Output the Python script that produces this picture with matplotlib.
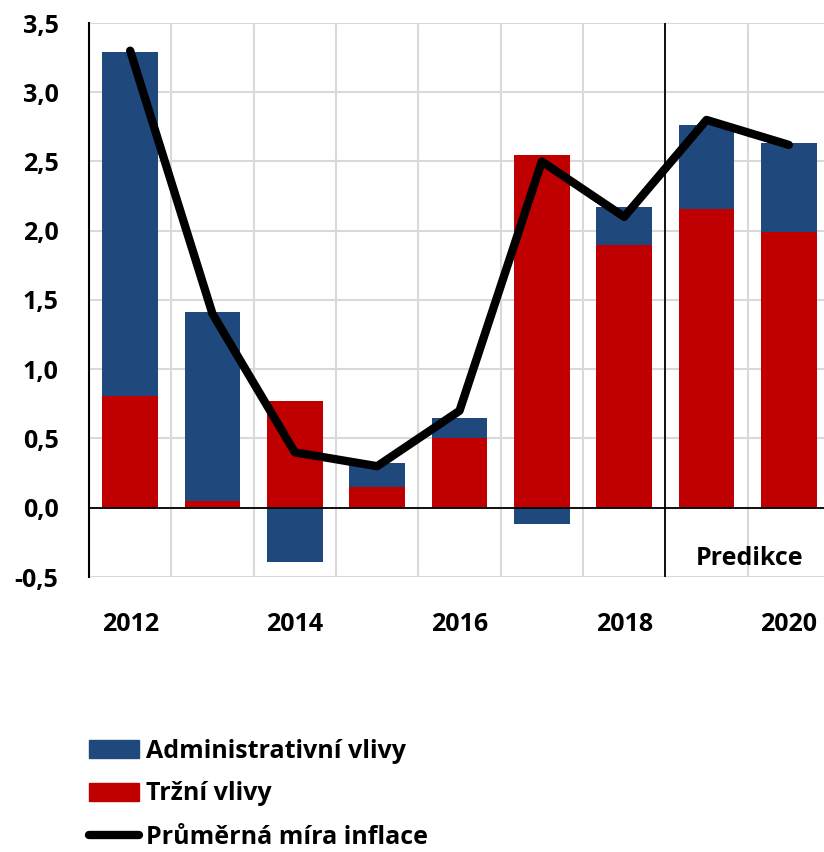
import matplotlib
matplotlib.use("Agg")
import matplotlib.pyplot as plt
import numpy as np
from matplotlib.patches import Patch
from matplotlib.lines import Line2D

plt.rcParams['font.family'] = ['Open Sans', 'DejaVu Sans']
plt.rcParams['font.weight'] = 'bold'

years = [2012, 2013, 2014, 2015, 2016, 2017, 2018, 2019, 2020]
market = [0.81, 0.05, 0.77, 0.15, 0.50, 2.55, 1.90, 2.16, 1.99]
admin = [2.48, 1.36, -0.39, 0.17, 0.15, -0.12, 0.27, 0.60, 0.64]
inflation = [3.3, 1.4, 0.4, 0.3, 0.7, 2.5, 2.1, 2.8, 2.62]
xtick_labels = ['2012', '', '2014', '', '2016', '', '2018', '', '2020']
ytick_vals = [-0.5, 0.0, 0.5, 1.0, 1.5, 2.0, 2.5, 3.0, 3.5]

blue = '#1F497D'
red = '#C00000'
grid = '#D9D9D9'
FS = 18

fig = plt.figure(figsize=(8.24, 8.52), dpi=100)
ax = fig.add_axes([89/824, 1-577/852, (830-89)/824, (577-23)/852])

x = np.arange(len(years))
m = np.array(market)
a = np.array(admin)
bottom_a = np.where(a >= 0, m, 0)

ax.bar(x, m, width=0.68, color=red, zorder=2)
ax.bar(x, a, width=0.68, bottom=bottom_a, color=blue, zorder=2)
ax.plot(x, inflation, color='black', lw=6, solid_capstyle='round', solid_joinstyle='round', zorder=4)

ax.set_xlim(-0.5, len(years) - 0.5)
ax.set_ylim(-0.5, 3.5)
ax.set_yticks(ytick_vals)
ax.set_yticklabels([f"{v:.1f}".replace('.', ',') for v in ytick_vals])
ax.set_xticks(x)
ax.set_xticklabels(xtick_labels)
ax.tick_params(axis='both', length=0, labelsize=FS)
ax.tick_params(axis='x', pad=25)
ax.tick_params(axis='y', pad=22)
for lab in ax.get_xticklabels() + ax.get_yticklabels():
    lab.set_fontweight('bold')

for v in ytick_vals:
    ax.axhline(v, color=grid, lw=1.5, zorder=0)
for b in np.arange(0.5, len(years) - 0.5, 1.0):
    ax.axvline(b, color=grid, lw=1.5, zorder=0)
ax.axhline(0, color='black', lw=1.3, zorder=3)
ax.axvline(6.5, color='black', lw=1.3, zorder=3)

for s in ['top', 'right', 'bottom']:
    ax.spines[s].set_visible(False)
ax.spines['left'].set_color('black')
ax.spines['left'].set_linewidth(1.5)

ax.text(7.52, -0.37, 'Predikce', ha='center', va='center', fontsize=FS, fontweight='bold')

handles = [Patch(color=blue), Patch(color=red), Line2D([0], [0], color='black', lw=6, solid_capstyle='round')]
labels = ['Administrativní vlivy', 'Tržní vlivy', 'Průměrná míra inflace']
fig.legend(handles, labels, loc='upper left', bbox_to_anchor=(66/824, 1-716/852), frameon=False,
           handlelength=2.0, handleheight=0.7, handletextpad=0.3, labelspacing=0.72,
           prop={'weight': 'bold', 'size': FS})

fig.savefig('out.png', dpi=100)
